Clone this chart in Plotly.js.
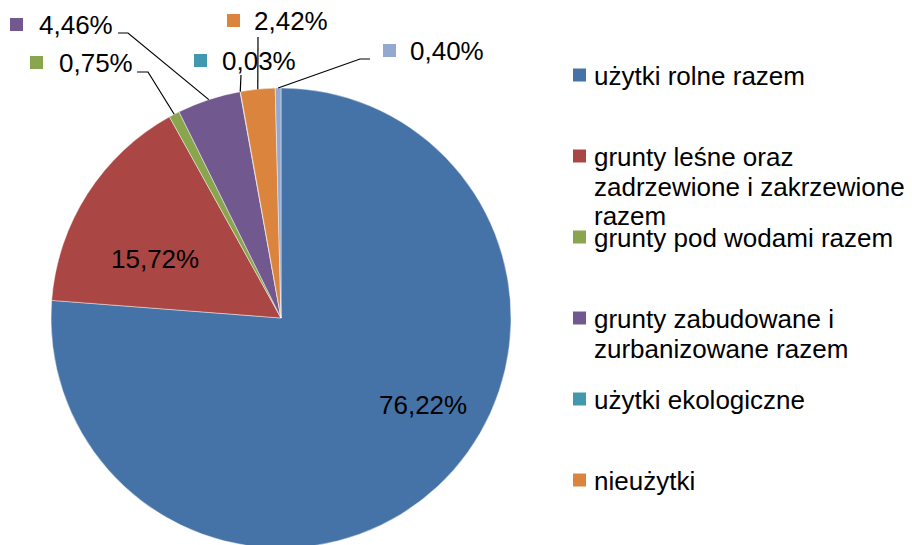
<!DOCTYPE html>
<html><head><meta charset="utf-8">
<script src="https://cdn.plot.ly/plotly-3.0.1.min.js"></script>
<style>html,body{margin:0;padding:0;overflow:hidden;background:#fff}#chart{width:912px;height:555px}</style>
</head><body><div id="chart"></div>
<script>
// ---- data ----
const categories = ["użytki rolne razem","grunty leśne oraz zadrzewione i zakrzewione razem","grunty pod wodami razem","grunty zabudowane i zurbanizowane razem","użytki ekologiczne","nieużytki","tereny różne"];
const legendLines = [["użytki rolne razem"],["grunty leśne oraz","zadrzewione i zakrzewione","razem"],["grunty pod wodami razem"],["grunty zabudowane i","zurbanizowane razem"],["użytki ekologiczne"],["nieużytki"],["tereny różne"]];
const shares = [76.22,15.72,0.75,4.46,0.03,2.42,0.40];
const colors = ["#4572A7","#AA4643","#89A54E","#71588F","#4198AF","#DB843D","#93A9CF"];

// ---- layout constants (pixels) ----
const W = 912, H = 555, VISIBLE_H = 545, CX = 281, CY = 318, R = 230;
const FONT = "Liberation Sans, Arial, sans-serif", FS = 26;
const fx = x => x / W, fy = y => (H - y) / H;
const fmt = v => v.toFixed(2).replace('.', ',') + '%';

// inside label centers
const insidePos = {0: [423, 405], 1: [155, 259]};
// outside labels: square top-left, text left x & center y, leader start, leader elbow
const outsidePos = {
  2: {sq: [30, 56], tx: 57, ty: 63, s: [137, 72], e: [148, 72]},
  3: {sq: [10, 18], tx: 37, ty: 25, s: [118, 33], e: [128, 33]},
  4: {sq: [194, 54], tx: 220, ty: 61, s: null, e: [241, 75]},
  5: {sq: [227, 14], tx: 252, ty: 21, s: null, e: [258, 37]},
  6: {sq: [383, 44], tx: 408, ty: 51, s: [370, 59], e: [360, 59]}
};
const SQ = 13;
const legendX = 573, legendTextX = 592, legendY0 = 75, legendStep = 81, lineStep = 29.5;

const total = shares.reduce((a, b) => a + b, 0);
const annotations = [], shapes = [];
let cum = 0;
shares.forEach((v, i) => {
  const mid = (cum + v / 2) / total * 2 * Math.PI;
  cum += v;
  const ex = CX + R * Math.sin(mid), ey = CY - R * Math.cos(mid);
  if (insidePos[i]) {
    annotations.push({xref:'paper', yref:'paper', x: fx(insidePos[i][0]), y: fy(insidePos[i][1]),
      xanchor:'center', yanchor:'middle', showarrow:false, text: fmt(v), font:{family:FONT, size:FS, color:'#000'}});
  } else if (outsidePos[i]) {
    const o = outsidePos[i];
    shapes.push({type:'rect', xref:'paper', yref:'paper', x0: fx(o.sq[0]), x1: fx(o.sq[0] + SQ), y0: fy(o.sq[1] + SQ), y1: fy(o.sq[1]),
      fillcolor: colors[i], line:{width:0}});
    annotations.push({xref:'paper', yref:'paper', x: fx(o.tx), y: fy(o.ty), xanchor:'left', yanchor:'middle',
      showarrow:false, text: fmt(v), font:{family:FONT, size:FS, color:'#000'}});
    const pts = [];
    if (o.s) pts.push(o.s);
    pts.push(o.e);
    pts.push([ex, ey]);
    const path = pts.map((p, k) => (k ? 'L' : 'M') + fx(p[0]).toFixed(5) + ',' + fy(p[1]).toFixed(5)).join(' ');
    shapes.push({type:'path', xref:'paper', yref:'paper', path: path, line:{color:'#000', width:1.2}});
  }
  // legend entry (the reference legend is cut off by the picture's lower edge)
  const ly = legendY0 + i * legendStep;
  if (ly + SQ / 2 > VISIBLE_H) return;
  shapes.push({type:'rect', xref:'paper', yref:'paper', x0: fx(legendX), x1: fx(legendX + SQ), y0: fy(ly + SQ / 2), y1: fy(ly - SQ / 2),
    fillcolor: colors[i], line:{width:0}});
  legendLines[i].forEach((t, k) => {
    annotations.push({xref:'paper', yref:'paper', x: fx(legendTextX), y: fy(ly + 1 + k * lineStep), xanchor:'left', yanchor:'middle',
      showarrow:false, text: t, font:{family:FONT, size:FS, color:'#000'}});
  });
});

const trace = {
  type: 'pie', values: shares, labels: categories, sort: false, direction: 'clockwise', rotation: 0,
  textinfo: 'none', hoverinfo: 'label+percent', showlegend: false,
  marker: {colors: colors, line: {color: 'rgba(255,255,255,0.55)', width: 0.8}},
  domain: {x: [fx(CX - R), fx(CX + R)], y: [fy(CY + R), fy(CY - R)]}
};

Plotly.newPlot('chart', [trace], {
  width: W, height: H, margin: {l:0, r:0, t:0, b:0}, paper_bgcolor:'#fff',
  showlegend: false, annotations: annotations, shapes: shapes, font:{family:FONT}
}, {displayModeBar: false, staticPlot: true});
</script></body></html>
